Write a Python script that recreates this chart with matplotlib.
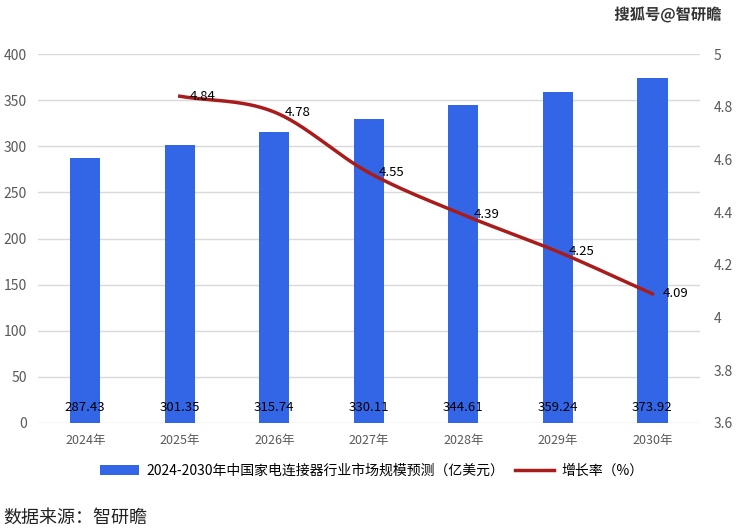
import matplotlib.pyplot as plt
import matplotlib.patheffects as pe
import numpy as np

plt.rcParams['font.family'] = ['Noto Sans CJK SC', 'DejaVu Sans']

# data
years = ['2024年', '2025年', '2026年', '2027年', '2028年', '2029年', '2030年']
market = [287.43, 301.35, 315.74, 330.11, 344.61, 359.24, 373.92]
growth_years = ['2025年', '2026年', '2027年', '2028年', '2029年', '2030年']
growth = [4.84, 4.78, 4.55, 4.39, 4.25, 4.09]

bar_name = '2024-2030年中国家电连接器行业市场规模预测（亿美元）'
line_name = '增长率（%）'

bar_color = '#3366e6'
line_color = '#a81c1c'
tick_color = '#595959'


# smooth curve through the points (catmull-rom, like the excel smoothing)
def smooth(xs, ys, n=30):
    xs = np.asarray(xs, float)
    ys = np.asarray(ys, float)
    px = np.concatenate([[2 * xs[0] - xs[1]], xs, [2 * xs[-1] - xs[-2]]])
    py = np.concatenate([[2 * ys[0] - ys[1]], ys, [2 * ys[-1] - ys[-2]]])
    out_x, out_y = [], []
    for i in range(1, len(px) - 2):
        t = np.linspace(0, 1, n)
        for p, out in ((px, out_x), (py, out_y)):
            p0, p1, p2, p3 = p[i - 1], p[i], p[i + 1], p[i + 2]
            out.extend(0.5 * ((2 * p1) + (-p0 + p2) * t
                              + (2 * p0 - 5 * p1 + 4 * p2 - p3) * t ** 2
                              + (-p0 + 3 * p1 - 3 * p2 + p3) * t ** 3))
    return out_x, out_y


fig = plt.figure(figsize=(7.36, 5.3), dpi=100)
ax = fig.add_axes([0.0516, 0.202, 0.899, 0.696])

x = np.arange(len(years))
bars = ax.bar(x, market, width=0.32, color=bar_color, label=bar_name, zorder=2)
for xi, v in zip(x, market):
    ax.text(xi, 17, f'{v:.2f}', ha='center', va='center', fontsize=9.5, color='black', zorder=4)

ax.set_xlim(-0.5, len(years) - 0.5)
ax.set_ylim(0, 400)
ax.set_yticks(range(0, 401, 50))
ax.set_xticks(x)
ax.set_xticklabels(years)
ax.grid(axis='y', color='#d9d9d9', linewidth=1, zorder=0)
for s in ax.spines.values():
    s.set_visible(False)
ax.tick_params(axis='both', length=0, colors=tick_color, labelsize=10)
ax.tick_params(axis='x', labelsize=9, pad=8)
ax.tick_params(axis='y', pad=8)

ax2 = ax.twinx()
gx = [years.index(g) for g in growth_years]
sx, sy = smooth(gx, growth)
line, = ax2.plot(sx, sy, color=line_color, linewidth=2.5, label=line_name, zorder=3)
for xi, v in zip(gx, growth):
    ax2.text(xi + 0.11, v, f'{v:.2f}', ha='left', va='center', fontsize=9.5, color='black', zorder=4)
ax2.set_ylim(3.6, 5.0)
ax2.set_yticks(np.arange(3.6, 5.01, 0.2))
ax2.set_yticklabels([f'{t:g}' for t in np.round(np.arange(3.6, 5.01, 0.2), 1)])
for s in ax2.spines.values():
    s.set_visible(False)
ax2.tick_params(axis='y', length=0, colors=tick_color, labelsize=10, pad=10)

fig.legend([bars, line], [bar_name, line_name], loc='center', bbox_to_anchor=(0.505, 0.111),
           ncol=2, frameon=False, fontsize=10, handlelength=2.8, handleheight=0.7,
           columnspacing=0.8, handletextpad=0.5)

fig.text(0.005, 0.024, '数据来源：智研瞻', fontsize=13, color='#222222', ha='left', va='center')
fig.text(0.98, 0.972, '搜狐号@智研瞻', fontsize=11, color='#333333', ha='right', va='center',
         fontweight='bold',
         path_effects=[pe.withStroke(linewidth=2, foreground='white')])

fig.savefig('out.png', dpi=100)
